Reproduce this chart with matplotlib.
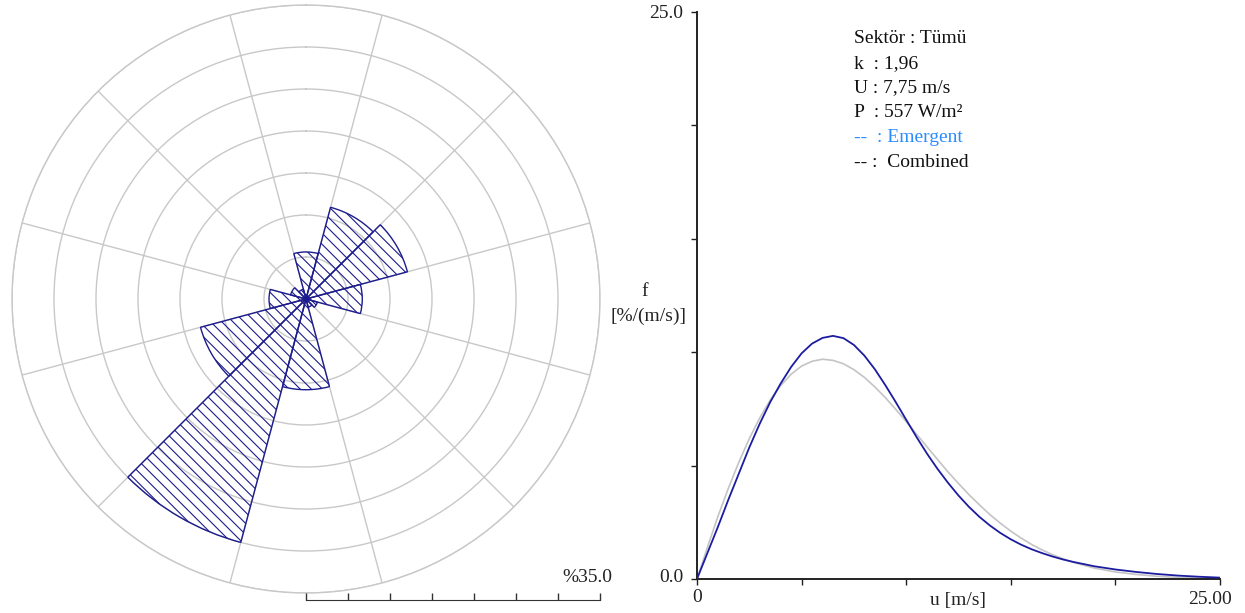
import matplotlib
matplotlib.use('Agg')
import numpy as np
import matplotlib.pyplot as plt

plt.rcParams['font.family'] = ['Liberation Serif', 'DejaVu Serif']

# ---------------- data ----------------
sector_dirs = [0, 30, 60, 90, 120, 150, 180, 210, 240, 270, 300, 330]   # degrees (compass)
sector_freq = [5.6, 11.3, 12.5, 6.7, 1.4, 1.0, 10.8, 30.0, 13.0, 4.4, 1.9, 1.2]  # %

speed = [0, 0.5, 1, 1.5, 2, 2.5, 3, 3.5, 4, 4.5, 5, 5.5, 6, 6.5, 7, 7.5, 8, 8.5,
         9, 9.5, 10, 10.5, 11, 11.5, 12, 12.5, 13, 13.5, 14, 14.5, 15, 15.5, 16,
         16.5, 17, 17.5, 18, 19, 20, 21, 22, 23, 24, 25]
f_emergent = [0, 1.15, 2.30, 3.50, 4.65, 5.80, 6.85, 7.80, 8.62, 9.35, 9.95, 10.38,
              10.63, 10.72, 10.62, 10.32, 9.85, 9.25, 8.55, 7.80, 7.02, 6.25, 5.52,
              4.85, 4.24, 3.68, 3.18, 2.74, 2.36, 2.03, 1.75, 1.51, 1.31, 1.14, 0.99,
              0.86, 0.75, 0.56, 0.42, 0.31, 0.22, 0.15, 0.10, 0.06]
f_weibull = [0, 1.40, 2.76, 4.00, 5.15, 6.19, 7.10, 7.89, 8.53, 9.03, 9.39, 9.60,
             9.69, 9.64, 9.49, 9.23, 8.89, 8.47, 8.00, 7.48, 6.94, 6.38, 5.82, 5.27,
             4.72, 4.21, 3.72, 3.27, 2.84, 2.46, 2.11, 1.80, 1.52, 1.28, 1.07, 0.89,
             0.73, 0.48, 0.31, 0.20, 0.12, 0.07, 0.04, 0.02]

ring_values = [5, 10, 15, 20, 25, 30, 35]
spoke_dirs = [15, 45, 75, 105, 135, 165, 195, 225, 255, 285, 315, 345]

info_lines = ["Sektör : Tümü", "k  : 1,96", "U : 7,75 m/s", "P  : 557 W/m²",
              "--  : Emergent", "-- :  Combined"]

# ---------------- figure ----------------
W, H = 1245, 613
fig = plt.figure(figsize=(W / 100, H / 100), dpi=100)


def px_rect(x0, y0, x1, y1):
    return [x0 / W, 1 - y1 / H, (x1 - x0) / W, (y1 - y0) / H]


navy = '#1c1c8e'
grid_c = '#c8c8c8'
plt.rcParams['hatch.linewidth'] = 0.8
plt.rcParams['hatch.color'] = navy

# ---- wind rose ----
cx, cy, R = 306, 299, 294
axp = fig.add_axes(px_rect(cx - R, cy - R, cx + R, cy + R), projection='polar')
axp.set_theta_zero_location('N')
axp.set_theta_direction(-1)
axp.set_ylim(0, 35)
axp.set_yticks(ring_values)
axp.set_yticklabels([])
axp.set_xticks(np.radians(spoke_dirs))
axp.set_xticklabels([])
axp.grid(True, color=grid_c, lw=1)
axp.spines['polar'].set_color(grid_c)
axp.spines['polar'].set_linewidth(1)
axp.tick_params(length=0)
axp.bar(np.radians(sector_dirs), sector_freq, width=np.radians(30), bottom=0,
        align='center', facecolor='none', edgecolor=navy, hatch='\\\\\\', lw=1.0,
        zorder=3)

# scale bar
sb = fig.add_axes(px_rect(cx, 590, cx + R, 600))
sb.set_xlim(0, 35)
sb.set_ylim(0, 1)
for s in ['top', 'left', 'right']:
    sb.spines[s].set_visible(False)
sb.spines['bottom'].set_color('#333333')
sb.patch.set_visible(False)
sb.set_yticks([])
sb.set_xticks(ring_values + [0])
sb.set_xticklabels([])
sb.tick_params(axis='x', direction='in', length=5, color='#333333', width=1)
fig.text(612 / W, 1 - 577.5 / H, '%35.0', ha='right', va='center', fontsize=14,
         color='#222222')

# ---- distribution plot ----
ax = fig.add_axes(px_rect(697, 12, 1220, 579))
ax.set_xlim(0, 25)
ax.set_ylim(0, 25)
ax.plot(speed, f_weibull, color='#c4c4c4', lw=1.2, zorder=2)
ax.plot(speed, f_emergent, color='#1c1ca0', lw=1.3, zorder=3)
for s in ['top', 'right']:
    ax.spines[s].set_visible(False)
for s in ['left', 'bottom']:
    ax.spines[s].set_color('#222222')
    ax.spines[s].set_linewidth(1.4)
ax.set_xticks([0, 5, 10, 15, 20, 25])
ax.set_yticks([0, 5, 10, 15, 20, 25])
ax.set_xticklabels([])
ax.set_yticklabels([])
ax.tick_params(direction='out', length=4, width=1, color='#222222')

fs = 14
fig.text(683 / W, 1 - 13 / H, '25.0', ha='right', va='center', fontsize=fs, color='#222222')
fig.text(683 / W, 1 - 578 / H, '0.0', ha='right', va='center', fontsize=fs, color='#222222')
fig.text(697 / W, 1 - 598 / H, '0', ha='center', va='center', fontsize=fs, color='#222222')
fig.text(1232 / W, 1 - 599 / H, '25.00', ha='right', va='center', fontsize=fs, color='#222222')
fig.text(958 / W, 1 - 600 / H, 'u [m/s]', ha='center', va='center', fontsize=fs, color='#222222')
fig.text(645 / W, 1 - 292 / H, 'f', ha='center', va='center', fontsize=fs, color='#222222')
fig.text(648 / W, 1 - 316 / H, '[%/(m/s)]', ha='center', va='center', fontsize=fs, color='#222222')

baselines = [42.7, 67.6, 92.5, 117.4, 142.3, 167.2]
colors = ['#111111', '#111111', '#111111', '#111111', '#2a8cff', '#111111']
for txt, b, c in zip(info_lines, baselines, colors):
    fig.text(854 / W, 1 - b / H, txt, ha='left', va='baseline', fontsize=fs, color=c)

fig.savefig('out.png', dpi=100)
